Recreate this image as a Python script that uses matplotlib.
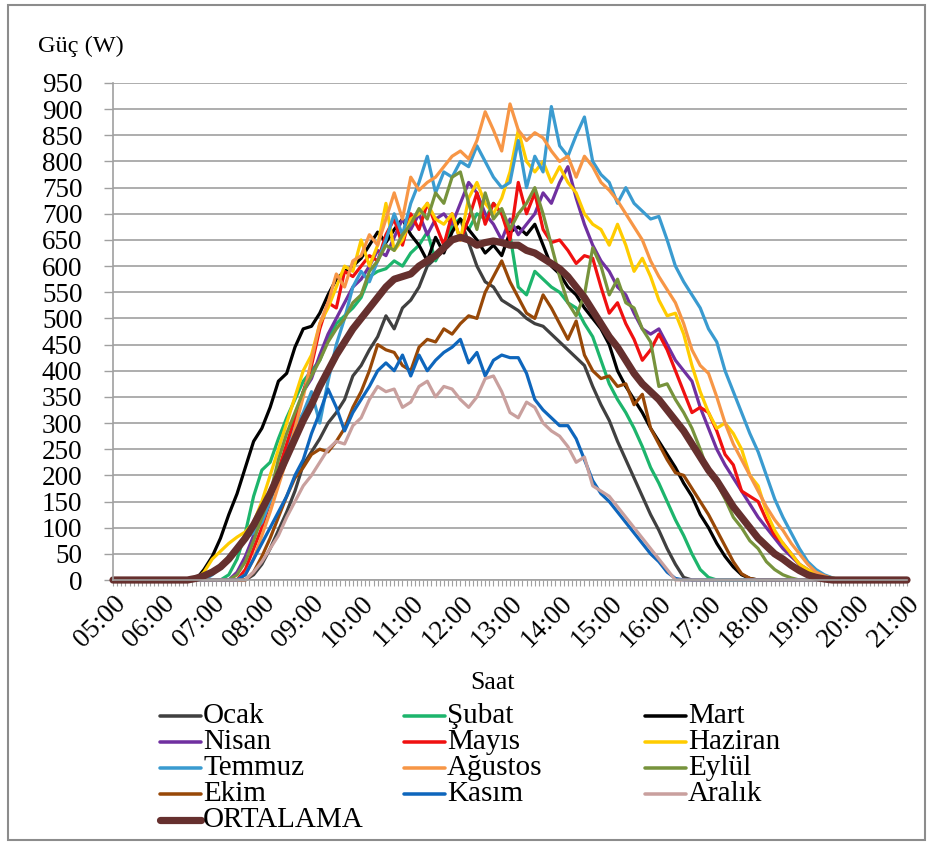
import numpy as np
import matplotlib

matplotlib.use("Agg")
import matplotlib.pyplot as plt  # noqa: E402
from matplotlib.lines import Line2D  # noqa: E402
from matplotlib.patches import Rectangle  # noqa: E402

plt.rcParams["font.family"] = "serif"
plt.rcParams["font.serif"] = ["Liberation Serif", "Times New Roman", "DejaVu Serif"]

# 10-minute samples from 05:00 to 21:00; every series is 0 W outside the given run
N = 97
hours = [f"{h:02d}:00" for h in range(5, 22)]

ocak_start = "07:40"
ocak = [0, 10, 30, 60, 95, 130, 170, 220, 245, 270, 300, 320, 345, 390, 410, 440, 465, 505, 480, 520,
        535, 560, 600, 615, 630, 670, 690, 645, 600, 570, 560, 535, 525, 515, 500, 490, 485, 470, 455, 440,
        425, 410, 370, 335, 305, 265, 230, 195, 160, 125, 95, 60, 30, 5, 0]
subat_start = "07:10"
subat = [0, 10, 40, 90, 160, 210, 225, 270, 310, 345, 380, 400, 420, 460, 490, 505, 520, 540, 580, 590,
         595, 610, 600, 625, 640, 665, 610, 640, 680, 690, 670, 700, 690, 720, 700, 660, 560, 545, 590, 575,
         560, 550, 530, 520, 490, 465, 420, 375, 345, 320, 290, 255, 215, 185, 150, 115, 85, 50, 20, 5, 0]
mart_start = "06:40"
mart = [0, 20, 45, 80, 125, 165, 215, 265, 290, 330, 380, 395, 445, 480, 485, 510, 545, 575, 590, 600,
        615, 640, 665, 645, 670, 690, 660, 640, 610, 655, 625, 665, 690, 670, 650, 625, 640, 620, 665, 675,
        660, 680, 640, 600, 585, 560, 545, 520, 500, 480, 450, 400, 370, 345, 320, 290, 265, 240, 215, 185,
        160, 125, 100, 70, 45, 25, 10, 3, 0]
nisan_start = "07:20"
nisan = [0, 15, 45, 85, 125, 165, 205, 250, 300, 360, 385, 430, 470, 500, 530, 560, 575, 600, 630, 620,
         655, 690, 670, 700, 660, 690, 700, 680, 720, 760, 740, 700, 680, 650, 690, 660, 680, 700, 740, 720,
         760, 790, 730, 680, 640, 610, 590, 560, 545, 510, 480, 470, 480, 450, 420, 400, 380, 330, 290, 250,
         220, 195, 170, 145, 120, 100, 80, 60, 45, 30, 20, 8, 0]
mayis_start = "07:30"
mayis = [0, 20, 60, 100, 150, 210, 260, 310, 360, 410, 480, 530, 520, 590, 580, 600, 620, 610, 660, 690,
         640, 700, 670, 720, 680, 640, 700, 650, 690, 740, 680, 720, 700, 650, 760, 700, 740, 670, 645, 650,
         630, 605, 620, 615, 560, 510, 530, 490, 460, 420, 440, 470, 440, 400, 360, 320, 330, 320, 285, 240,
         220, 170, 160, 150, 115, 85, 70, 50, 30, 15, 5, 0]
haziran_start = "06:40"
haziran = [0, 15, 40, 55, 70, 82, 92, 110, 150, 200, 250, 300, 350, 400, 430, 490, 520, 560, 600, 590,
           650, 600, 640, 720, 630, 650, 690, 700, 720, 690, 680, 700, 650, 730, 760, 720, 700, 730, 780, 860,
           800, 780, 800, 760, 790, 760, 740, 700, 680, 670, 640, 680, 640, 590, 615, 580, 535, 505, 510, 470,
           410, 360, 320, 290, 300, 280, 250, 200, 180, 130, 95, 70, 50, 30, 20, 12, 8, 4, 0]
temmuz_start = "06:50"
temmuz = [0, 10, 25, 45, 60, 80, 90, 110, 150, 200, 240, 290, 320, 360, 300, 380, 450, 500, 560, 590,
          570, 610, 650, 700, 660, 720, 760, 810, 740, 780, 770, 800, 790, 830, 800, 770, 750, 760, 840, 750,
          810, 780, 905, 830, 810, 850, 885, 800, 775, 760, 720, 750, 720, 705, 690, 695, 650, 600, 570, 545,
          520, 480, 455, 400, 360, 320, 280, 245, 200, 155, 120, 90, 60, 35, 20, 10, 4, 0]
agustos_start = "07:30"
agustos = [0, 10, 40, 85, 130, 180, 230, 290, 350, 420, 490, 530, 585, 560, 610, 620, 660, 640, 690, 740,
           690, 770, 745, 760, 770, 790, 810, 820, 805, 840, 895, 860, 820, 910, 860, 840, 855, 845, 820, 800,
           810, 770, 810, 790, 760, 745, 725, 700, 675, 650, 610, 580, 555, 530, 490, 440, 410, 395, 350, 300,
           260, 230, 200, 170, 140, 115, 95, 70, 50, 30, 15, 8, 3, 0]
eylul_start = "07:20"
eylul = [0, 10, 35, 75, 120, 165, 230, 280, 320, 360, 390, 420, 455, 480, 500, 530, 545, 590, 610, 640,
         630, 660, 680, 710, 690, 740, 720, 770, 780, 720, 670, 740, 690, 710, 670, 700, 720, 750, 700, 640,
         580, 530, 505, 545, 635, 600, 545, 575, 530, 520, 480, 455, 370, 375, 345, 320, 290, 250, 205, 185,
         155, 120, 100, 75, 60, 35, 20, 10, 4, 0]
ekim_start = "07:40"
ekim = [0, 15, 45, 80, 120, 160, 195, 215, 240, 250, 245, 265, 290, 330, 360, 400, 450, 440, 435, 410,
        400, 445, 460, 455, 480, 470, 490, 505, 500, 550, 580, 610, 570, 540, 510, 500, 545, 520, 490, 460,
        495, 430, 400, 385, 390, 370, 375, 335, 355, 290, 260, 230, 205, 200, 175, 150, 125, 95, 65, 35,
        12, 3, 0]
kasim_start = "07:30"
kasim = [0, 10, 40, 70, 100, 130, 160, 200, 230, 280, 320, 365, 330, 285, 320, 345, 370, 400, 415, 400,
         430, 390, 430, 400, 420, 435, 445, 460, 415, 435, 390, 420, 430, 425, 425, 395, 345, 325, 310, 295,
         295, 270, 230, 190, 165, 150, 130, 110, 90, 70, 50, 35, 15, 3, 0]
aralik_start = "07:40"
aralik = [0, 15, 35, 60, 85, 120, 150, 180, 200, 225, 250, 265, 260, 295, 310, 345, 370, 360, 365, 330,
          340, 370, 380, 350, 370, 365, 345, 330, 350, 385, 390, 360, 320, 310, 340, 330, 300, 285, 275, 255,
          225, 235, 180, 170, 160, 140, 120, 100, 80, 60, 40, 20, 0]
ortalama_start = "06:30"
ortalama = [0, 3, 8, 15, 25, 40, 60, 80, 105, 135, 165, 200, 235, 270, 305, 335, 370, 400, 430, 455,
            480, 500, 520, 540, 560, 575, 580, 585, 600, 610, 620, 635, 650, 655, 650, 640, 645, 648, 645, 640,
            640, 630, 625, 615, 605, 595, 580, 560, 540, 515, 490, 465, 445, 420, 395, 375, 360, 345, 325, 305,
            285, 260, 235, 210, 190, 165, 140, 120, 100, 80, 65, 50, 40, 28, 18, 10, 5, 2, 0]

labels = ["Ocak", "Şubat", "Mart", "Nisan", "Mayıs", "Haziran", "Temmuz",
          "Ağustos", "Eylül", "Ekim", "Kasım", "Aralık", "ORTALAMA"]
starts = [ocak_start, subat_start, mart_start, nisan_start, mayis_start, haziran_start,
          temmuz_start, agustos_start, eylul_start, ekim_start, kasim_start, aralik_start, ortalama_start]
values = [ocak, subat, mart, nisan, mayis, haziran, temmuz, agustos, eylul, ekim, kasim, aralik, ortalama]

colors = ["#404040", "#1DB56C", "#000000", "#7030A0", "#F01010", "#FFCC00", "#3A9BD0",
          "#F79646", "#77933C", "#984807", "#0E66BC", "#C9A09E", "#66302E"]
widths = [2.3] * 12 + [5.2]


def to_hours(s):
    h, m = s.split(":")
    return int(h) + int(m) / 60


def day(start, vals):
    out = np.zeros(N)
    i = int(round((to_hours(start) - 5) * 6))
    out[i:i + len(vals)] = vals
    return out


t = 5 + np.arange(N) / 6

fig = plt.figure(figsize=(9.33, 8.43), dpi=100)
ax = fig.add_axes([113 / 933, 1 - 580 / 843, (907 - 113) / 933, (580 - 83) / 843])

for lab, st, v, c, w in zip(labels, starts, values, colors, widths):
    ax.plot(t, day(st, v), color=c, lw=w, solid_joinstyle="round", solid_capstyle="round",
            label=lab, clip_on=False)

GRID = "#A0A0A0"
ax.set_xlim(5, 21)
ax.set_ylim(0, 950)
ax.set_yticks(np.arange(0, 951, 50))
ax.set_xticks(np.arange(5, 22))
ax.set_xticklabels(hours)
ax.set_xticks(5 + np.arange(16 * 12 + 1) / 12, minor=True)
ax.grid(axis="y", color=GRID, lw=1.2)
ax.set_axisbelow(True)
for s in ("top", "right"):
    ax.spines[s].set_visible(False)
for s in ("left", "bottom"):
    ax.spines[s].set_color(GRID)
    ax.spines[s].set_linewidth(1.2)
ax.tick_params(axis="y", length=6.5, color=GRID, width=1.0, labelsize=19.5, pad=15.5)
ax.tick_params(axis="x", which="both", length=4, color=GRID, width=0.8, labelsize=19.5, pad=4)
for lbl in ax.get_xticklabels():
    lbl.set_rotation(45)
    lbl.set_ha("right")
    lbl.set_va("top")
    lbl.set_rotation_mode("anchor")

fig.text(38 / 933, 1 - 46 / 843, "Güç (W)", fontsize=17.5, va="center", ha="left")
fig.text(493 / 933, 1 - 683 / 843, "Saat", fontsize=18.5, va="center", ha="center")

# legend, three columns filled row by row
col_x = [160, 404, 645]
row_y = [716, 742, 768, 794, 820]
handles = ax.get_lines()
for k, h in enumerate(handles):
    r, c = divmod(k, 3)
    x0, y0 = col_x[c], row_y[r]
    fig.add_artist(Line2D([x0 / 933, (x0 + 41) / 933], [1 - y0 / 843] * 2,
                          color=h.get_color(), lw=h.get_linewidth() * (1.1 if k < 12 else 1.0),
                          solid_capstyle="round", transform=fig.transFigure))
    fig.text((x0 + 43) / 933, 1 - y0 / 843, h.get_label(), fontsize=21, va="center", ha="left")

fig.add_artist(Rectangle((8 / 933, 3 / 843), (925 - 8) / 933, (838 - 3) / 843, fill=False,
                         ec="#8C8C8C", lw=1.5, transform=fig.transFigure))

fig.savefig("out.png", dpi=100)
